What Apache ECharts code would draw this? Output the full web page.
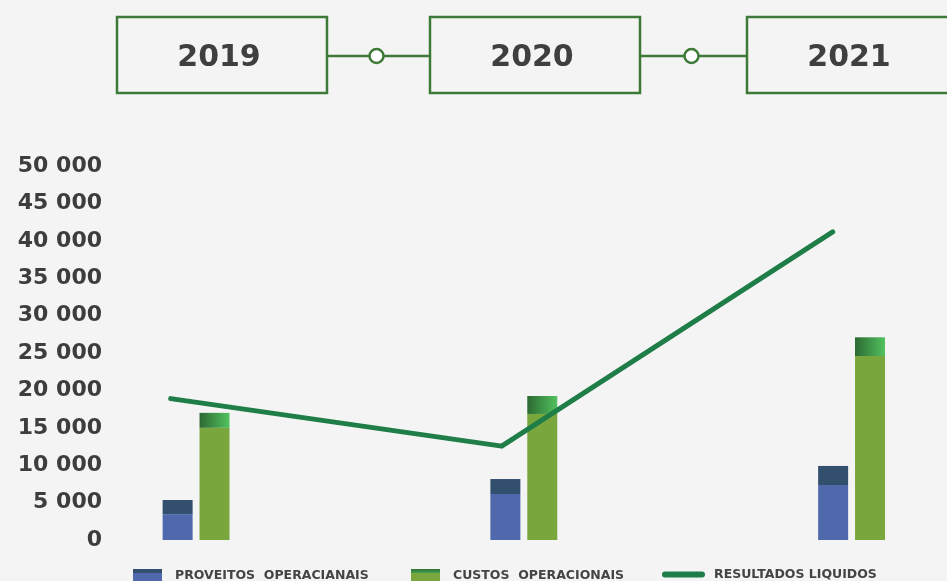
<!DOCTYPE html>
<html>
<head>
<meta charset="utf-8">
<script src="https://cdn.jsdelivr.net/npm/echarts@6/dist/echarts.min.js"></script>
<style>
html,body{margin:0;padding:0;background:#f4f4f4;}
#chart{width:947px;height:581px;}
</style>
</head>
<body>
<div id="chart"></div>
<script>
// ---- data ----
var years = ['2019', '2020', '2021'];
var proveitosBase = [3450, 6150, 7350];
var proveitosTopo = [1900, 2000, 2550];
var custosBase = [15000, 16850, 24600];
var custosTopo = [2000, 2400, 2500];
var resultados = [18900, 12550, 41200];
var yTicks = { min: 0, max: 50000, step: 5000 };
var legendNames = ['PROVEITOS  OPERACIANAIS', 'CUSTOS  OPERACIONAIS', 'RESULTADOS LIQUIDOS'];

// ---- styles ----
var GREEN = '#3d7a37';
var FONT = 'DejaVu Sans';
var blueDark = '#324f6d', blue = '#5069ad', olive = '#7aa63e';
var lineColor = '#1f7d48';

var chart = echarts.init(document.getElementById('chart'), null, { renderer: 'canvas' });

// timeline boxes
var boxX = [117, 430, 747], boxW = 210, boxY = 17, boxH = 76;
var graphics = [];
years.forEach(function (y, i) {
  graphics.push({
    type: 'rect', shape: { x: boxX[i], y: boxY, width: boxW, height: boxH },
    style: { fill: 'none', stroke: GREEN, lineWidth: 2.5 }, z: 10
  });
  graphics.push({
    type: 'text', x: boxX[i] + boxW / 2 - 3, y: 58,
    style: { text: y, fill: '#3f3f3f', font: 'bold 30px "' + FONT + '"', textAlign: 'center', textVerticalAlign: 'middle' }, z: 11
  });
  if (i < years.length - 1) {
    var x1 = boxX[i] + boxW, x2 = boxX[i + 1];
    graphics.push({
      type: 'line', shape: { x1: x1, y1: 56, x2: x2, y2: 56 },
      style: { stroke: GREEN, lineWidth: 2.5 }, z: 10
    });
    graphics.push({
      type: 'circle', shape: { cx: (x1 + x2) / 2 - 2, cy: 56, r: 7 },
      style: { fill: '#ffffff', stroke: GREEN, lineWidth: 2.5 }, z: 12
    });
  }
});

function fmt(v) {
  return String(v).replace(/\B(?=(\d{3})+(?!\d))/g, ' ');
}

var legendText = { color: '#444', fontFamily: FONT, fontWeight: 'bold', fontSize: 12.5, padding: [0, 0, 0, 8] };

var option = {
  backgroundColor: '#f4f4f4',
  animation: false,
  graphic: graphics,
  grid: [
    { left: 32.2, width: 983.25, top: 166, bottom: 41, containLabel: false, outerBoundsMode: 'none' },
    { left: 5.2, width: 993, top: 166, bottom: 41, containLabel: false, outerBoundsMode: 'none' }
  ],
  xAxis: [
    { type: 'category', data: years, gridIndex: 0, show: false },
    { type: 'category', data: years, gridIndex: 1, show: false }
  ],
  yAxis: [
    {
      type: 'value', gridIndex: 0, min: yTicks.min, max: yTicks.max, interval: yTicks.step,
      offset: -77.8,
      axisLine: { show: false }, axisTick: { show: false }, splitLine: { show: false },
      axisLabel: { formatter: fmt, color: '#3d3d3d', fontFamily: FONT, fontWeight: 'bold', fontSize: 22, margin: 8 }
    },
    {
      type: 'value', gridIndex: 1, min: yTicks.min, max: yTicks.max, interval: yTicks.step, show: false
    }
  ],
  legend: [
    {
      left: 133, top: 569, padding: 0, itemWidth: 29, itemHeight: 14, icon: 'rect',
      data: [{ name: legendNames[0], itemStyle: { color: new echarts.graphic.LinearGradient(0, 0, 0, 1, [
        { offset: 0, color: blueDark }, { offset: 0.32, color: blueDark }, { offset: 0.32, color: blue }, { offset: 1, color: blue }]) } }],
      textStyle: legendText, selectedMode: false
    },
    {
      left: 411, top: 569, padding: 0, itemWidth: 29, itemHeight: 14, icon: 'rect',
      data: [{ name: legendNames[1], itemStyle: { color: new echarts.graphic.LinearGradient(0, 0, 0, 1, [
        { offset: 0, color: '#2f6f35' }, { offset: 0.32, color: '#48a852' }, { offset: 0.32, color: olive }, { offset: 1, color: olive }]) } }],
      textStyle: legendText, selectedMode: false
    },
    {
      left: 662, top: 568, padding: 0, itemWidth: 43, itemHeight: 6,
      icon: 'path://M3,0 L40,0 A3,3 0 0 1 40,6 L3,6 A3,3 0 0 1 3,0 Z',
      data: [{ name: legendNames[2], itemStyle: { color: lineColor } }],
      textStyle: { color: '#444', fontFamily: FONT, fontWeight: 'bold', fontSize: 12.5, padding: [0, 0, 2, 4] }, selectedMode: false
    }
  ],
  series: [
    {
      name: legendNames[0], type: 'bar', stack: 'p', xAxisIndex: 0, yAxisIndex: 0,
      barWidth: 30, barGap: '23%', data: proveitosBase, itemStyle: { color: blue }
    },
    {
      name: 'proveitos_topo', type: 'bar', stack: 'p', xAxisIndex: 0, yAxisIndex: 0,
      barWidth: 30, barGap: '23%', data: proveitosTopo, itemStyle: { color: blueDark }
    },
    {
      name: legendNames[1], type: 'bar', stack: 'c', xAxisIndex: 0, yAxisIndex: 0,
      barWidth: 30, barGap: '23%', data: custosBase, itemStyle: { color: olive }
    },
    {
      name: 'custos_topo', type: 'bar', stack: 'c', xAxisIndex: 0, yAxisIndex: 0,
      barWidth: 30, barGap: '23%', data: custosTopo,
      itemStyle: { color: new echarts.graphic.LinearGradient(0, 0, 1, 0, [
        { offset: 0, color: '#2c6932' }, { offset: 1, color: '#52c25f' }]) }
    },
    {
      name: legendNames[2], type: 'line', xAxisIndex: 1, yAxisIndex: 1,
      data: resultados, symbol: 'none', color: lineColor, z: 5,
      lineStyle: { color: lineColor, width: 5, cap: 'round', join: 'round' }
    }
  ]
};
chart.setOption(option);
</script>
</body>
</html>
